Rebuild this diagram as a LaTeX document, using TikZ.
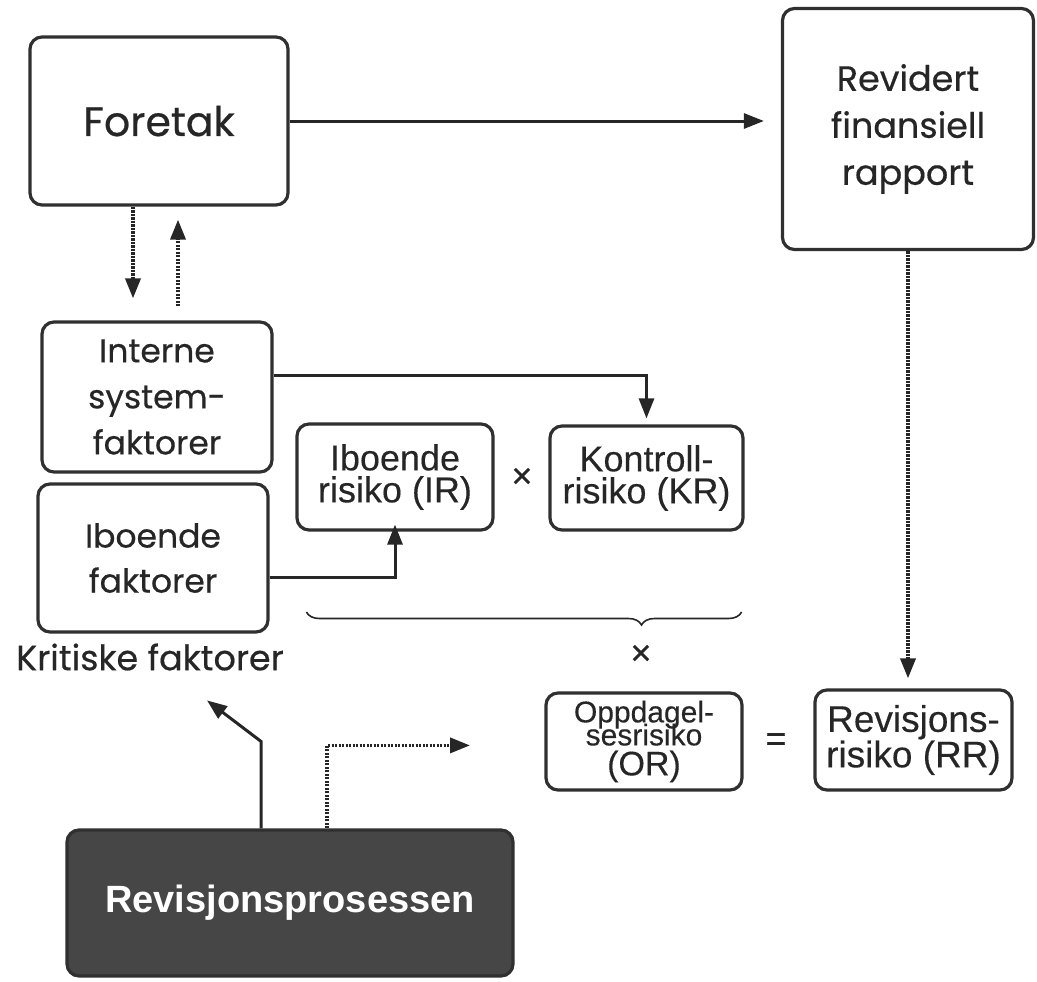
\documentclass[tikz,border=0pt]{standalone}
\usepackage{fontspec}
\setmainfont{Poppins}[FakeBold=0.5]
\newfontfamily\arialfont{Liberation Sans}[FakeBold=0.3]
\newfontfamily\arialbold{Liberation Sans Bold}
\usetikzlibrary{arrows.meta,calc,decorations.pathreplacing}
\definecolor{ink}{HTML}{262626}
\definecolor{rim}{HTML}{303030}
\definecolor{slate}{HTML}{464646}

\begin{document}
\begin{tikzpicture}[x=1pt,y=-1pt,
  box/.style={draw=rim, line width=3.2pt, rounded corners=12pt, align=center,
              text=ink, inner sep=0pt},
  big/.style={font=\fontsize{41}{50}\selectfont},
  mid/.style={font=\fontsize{33}{46}\selectfont},
  tight/.style={font=\arialfont\fontsize{36}{32}\selectfont},
  tipshape/.style={-{Triangle[length=20pt,width=15pt]}},
  solidarrow/.style={tipshape, draw=ink, line width=3pt},
  dotarrow/.style={tipshape, draw=ink, line width=3.6pt,
                   dash pattern=on 2.4pt off 1.1pt},
  sign/.style={text=ink, font=\arialfont\fontsize{36}{36}\selectfont, inner sep=0pt},
]
\useasboundingbox (0,0) rectangle (1037,982);

% boxes
\node[box, big, minimum width=258pt, minimum height=168pt] (foretak) at (159,121) {Foretak};
\node[box, font=\fontsize{35}{47}\selectfont, minimum width=251pt, minimum height=241pt]
  (revidert) at (908,129) {Revidert\\finansiell\\rapport};
\node[box, mid, minimum width=230pt, minimum height=150pt] (interne) at (157,397)
  {Interne\\system-\\faktorer};
\node[box, font=\fontsize{33}{45}\selectfont, minimum width=230pt, minimum height=148pt]
  (ibfakt) at (153,558) {Iboende\\faktorer};
\node[box, tight, minimum width=196pt, minimum height=106pt] (ir) at (395,477)
  {Iboende\\risiko (IR)};
\node[box, tight, minimum width=193pt, minimum height=104pt] (kr) at (646.5,478)
  {Kontroll-\\risiko (KR)};
\node[box, font=\arialfont\fontsize{30}{30}\selectfont, minimum width=196pt, minimum height=97pt]
  (or) at (644,741.5)
  {Oppdagel-\\[-7pt]sesrisiko\\{\fontsize{34}{34}\selectfont(OR)}};
\node[box, font=\arialfont\fontsize{37}{32}\selectfont, minimum width=197pt, minimum height=100pt]
  (rr) at (913.5,740) {Revisjons-\\risiko (RR)};
\node[box, draw=rim, fill=slate, text=white, font=\arialbold\fontsize{38}{40}\selectfont,
      minimum width=446pt, minimum height=146pt] (prosess) at (290,903) {Revisjonsprosessen};

% loose labels and operators
\node[text=ink, font=\fontsize{35}{40}\selectfont, inner sep=0pt] (kritiske) at (150,657)
  {Kritiske faktorer};
\node[sign] (times1) at (522,478) {×};
\node[sign] (times2) at (641,655) {×};
\node[sign] (equals) at (776,742) {=};

% Foretak <-> internal system factors
\coordinate (downTop) at ($(foretak.south)+(-26,0)$);
\coordinate (downEnd) at (downTop |- interne.north);
\coordinate (upTop) at ($(foretak.south)+(19,0)$);
\coordinate (upStart) at (upTop |- interne.north);
\draw[dotarrow, shorten >=22pt] (downTop) -- (downEnd);
\draw[dotarrow, shorten <=14pt, shorten >=13pt] (upStart) -- (upTop);

% main flow
\coordinate (revIn) at (foretak.east -| revidert.west);
\draw[solidarrow, shorten >=17pt] (foretak.east) -- (revIn);
\coordinate (rrIn) at (revidert.south |- rr.north);
\draw[dotarrow, shorten >=10pt] (revidert.south) -- (rrIn);

% factors feeding the risk components
\coordinate (intOut) at ($(interne.east)+(0,-22)$);
\draw[solidarrow, shorten >=6pt] (intOut) -| (kr.north);
\coordinate (ibOut) at ($(ibfakt.east)+(0,19)$);
\draw[solidarrow, shorten >=-7pt] (ibOut) -| (ir.south);

% brace over the two factors
\coordinate (braceL) at ($(ir.west)+(11,135)$);
\coordinate (braceR) at ($(kr.east)+(-3,134)$);
\draw[draw=ink, line width=1.6pt, decorate,
      decoration={brace, mirror, amplitude=13pt, aspect=0.77}] (braceL) -- (braceR);

% outputs of the audit process
\coordinate (srcA) at ($(prosess.north)+(-29,0)$);
\coordinate (bendA) at ($(prosess.north)+(-29,-87)$);
\coordinate (kritpt) at ($(prosess.north)+(-83,-128)$);
\draw[solidarrow] (srcA) -- (bendA) -- (kritpt);
\coordinate (srcB) at ($(prosess.north)+(37,0)$);
\coordinate (bendB) at ($(prosess.north)+(37,-83)$);
\coordinate (orpt) at ($(prosess.north)+(180,-83)$);
\draw[dotarrow] (srcB) -- (bendB) -- (orpt);
\end{tikzpicture}
\end{document}
